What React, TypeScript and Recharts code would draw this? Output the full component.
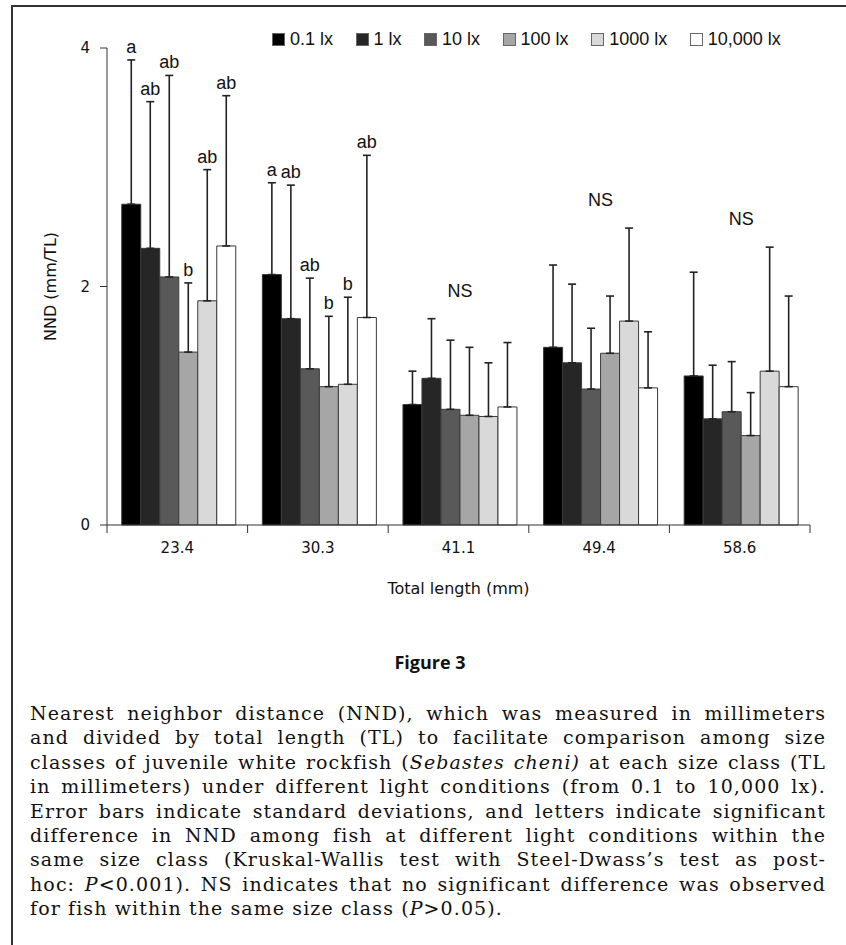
import React from "react";
import { Bar, BarChart, ErrorBar, LabelList, Legend, XAxis, YAxis } from "recharts";

// size classes (total length, mm)
const categories = ["23.4", "30.3", "41.1", "49.4", "58.6"];
const seriesNames = ["0.1 lx", "1 lx", "10 lx", "100 lx", "1000 lx", "10,000 lx"];
const fills = ["#000000", "#262626", "#595959", "#a6a6a6", "#d9d9d9", "#ffffff"];

// mean NND (mm/TL) per light level
const mean01 = [2.69, 2.1, 1.01, 1.49, 1.25];
const mean1 = [2.32, 1.73, 1.23, 1.36, 0.89];
const mean10 = [2.08, 1.31, 0.97, 1.14, 0.95];
const mean100 = [1.45, 1.16, 0.92, 1.44, 0.75];
const mean1000 = [1.88, 1.18, 0.91, 1.71, 1.29];
const mean10000 = [2.34, 1.74, 0.99, 1.15, 1.16];

// standard deviations (upper whisker only)
const sd01 = [1.21, 0.77, 0.28, 0.69, 0.87];
const sd1 = [1.23, 1.12, 0.5, 0.66, 0.45];
const sd10 = [1.69, 0.76, 0.58, 0.51, 0.42];
const sd100 = [0.58, 0.59, 0.57, 0.48, 0.36];
const sd1000 = [1.1, 0.73, 0.45, 0.78, 1.04];
const sd10000 = [1.26, 1.36, 0.54, 0.47, 0.76];

// significance letters
const let01 = ["a", "a", "", "", ""];
const let1 = ["ab", "ab", "", "", ""];
const let10 = ["ab", "ab", "", "", ""];
const let100 = ["b", "b", "", "", ""];
const let1000 = ["ab", "b", "", "", ""];
const let10000 = ["ab", "ab", "", "", ""];
const groupNotes = ["", "", "NS", "NS", "NS"];

const yTicks = [0, 2, 4];

const means = [mean01, mean1, mean10, mean100, mean1000, mean10000];
const sds = [sd01, sd1, sd10, sd100, sd1000, sd10000];
const letters = [let01, let1, let10, let100, let1000, let10000];

const data = categories.map((tl, i) => {
  const row: Record<string, any> = { tl, note: groupNotes[i] };
  means.forEach((m, k) => {
    row[`m${k}`] = m[i];
    row[`e${k}`] = [0, sds[k][i]];
    row[`l${k}`] = letters[k][i];
  });
  return row;
});

const CHART_W = 846;
const CHART_H = 620;
const PLOT_LEFT = 107;
const PLOT_RIGHT = 810;
const PLOT_TOP = 48;
const PLOT_BOTTOM = 525;
const Y_MAX = 4;
const UNIT = (PLOT_BOTTOM - PLOT_TOP) / Y_MAX;
const BAND = (PLOT_RIGHT - PLOT_LEFT) / categories.length;

const AXIS_FONT = '"DejaVu Sans", Verdana, sans-serif';
const LABEL_FONT = '"Liberation Sans", Arial, sans-serif';
const INK = "#222";

function XTick(props: any) {
  const { x, payload, index } = props;
  return (
    <g>
      <line x1={x - BAND / 2} x2={x - BAND / 2} y1={PLOT_BOTTOM} y2={PLOT_BOTTOM + 8} stroke="#333" />
      {index === categories.length - 1 && (
        <line x1={x + BAND / 2} x2={x + BAND / 2} y1={PLOT_BOTTOM} y2={PLOT_BOTTOM + 8} stroke="#333" />
      )}
      <text x={x} y={PLOT_BOTTOM + 17} dy="0.71em" textAnchor="middle" fontFamily={AXIS_FONT} fontSize={15} fill="#111">
        {payload.value}
      </text>
    </g>
  );
}

const letterLabel = (k: number) => (p: any) => {
  const { x, y, width, value, index } = p;
  if (!value) return null;
  const top = y - sds[k][index] * UNIT;
  return (
    <text x={x + width / 2} y={top - 7} textAnchor="middle" fontFamily={LABEL_FONT} fontSize={18} fill="#111">
      {value}
    </text>
  );
};

const noteLabel = (p: any) => {
  const { x, width, value, index } = p;
  if (!value) return null;
  const maxTop = Math.max(...means.map((m, k) => m[index] + sds[k][index]));
  return (
    <text
      x={x + 3 * width}
      y={PLOT_BOTTOM - maxTop * UNIT - 22}
      textAnchor="middle"
      fontFamily={LABEL_FONT}
      fontSize={18}
      fill="#111"
    >
      {value}
    </text>
  );
};

const renderLegend = () => (
  <div style={{ display: "flex", alignItems: "center", fontFamily: LABEL_FONT, fontSize: 18, color: "#111" }}>
    {seriesNames.map((n, i) => (
      <div key={n} style={{ display: "flex", alignItems: "center", marginRight: 22.5, whiteSpace: "nowrap" }}>
        <span
          style={{
            display: "inline-block",
            width: 11,
            height: 11,
            background: fills[i],
            border: "1px solid #666",
            marginRight: 5,
          }}
        />
        <span>{n}</span>
      </div>
    ))}
  </div>
);

const captionLines: React.ReactNode[] = [
  "Nearest neighbor distance (NND), which was measured in millimeters",
  "and divided by total length (TL) to facilitate comparison among size",
  <>
    classes of juvenile white rockfish (<i>Sebastes cheni)</i> at each size class (TL
  </>,
  "in millimeters) under different light conditions (from 0.1 to 10,000 lx).",
  "Error bars indicate standard deviations, and letters indicate significant",
  "difference in NND among fish at different light conditions within the",
  "same size class (Kruskal-Wallis test with Steel-Dwass\u2019s test as post-",
  <>
    hoc: <i>P</i>&lt;0.001). NS indicates that no significant difference was observed
  </>,
  <>
    for fish within the same size class (<i>P</i>&gt;0.05).
  </>,
];

export default function App() {
  return (
    <div style={{ position: "relative", width: CHART_W, height: 945, background: "#fff", overflow: "hidden" }}>
      <style>{"body{margin:0}"}</style>
      <div style={{ position: "absolute", top: 5, left: 11, width: 835, height: 2, background: "#333" }} />
      <div style={{ position: "absolute", top: 5, left: 11, width: 2, height: 940, background: "#333" }} />
      <div style={{ position: "absolute", top: 0, left: 0 }}>
        <BarChart
          width={CHART_W}
          height={CHART_H}
          data={data}
          margin={{ top: PLOT_TOP, right: CHART_W - PLOT_RIGHT, left: 0, bottom: 20 }}
          barGap={0}
          barCategoryGap="10.5%"
        >
          <XAxis
            dataKey="tl"
            interval={0}
            tickLine={false}
            tick={<XTick />}
            axisLine={{ stroke: "#333" }}
            height={CHART_H - 20 - PLOT_BOTTOM}
            label={{
              content: () => (
                <text
                  x={(PLOT_LEFT + PLOT_RIGHT) / 2}
                  y={PLOT_BOTTOM + 69}
                  textAnchor="middle"
                  fontFamily={AXIS_FONT}
                  fontSize={16}
                  fill="#111"
                >
                  Total length (mm)
                </text>
              ),
            }}
          />
          <YAxis
            domain={[0, Y_MAX]}
            ticks={yTicks}
            width={PLOT_LEFT}
            tickSize={7}
            tickMargin={10}
            stroke="#333"
            tick={{ fontFamily: AXIS_FONT, fontSize: 15, fill: "#111" }}
            label={{
              content: () => (
                <text
                  x={50}
                  y={(PLOT_TOP + PLOT_BOTTOM) / 2}
                  transform={`rotate(-90 50 ${(PLOT_TOP + PLOT_BOTTOM) / 2})`}
                  textAnchor="middle"
                  dominantBaseline="central"
                  fontFamily={AXIS_FONT}
                  fontSize={16}
                  fill="#111"
                >
                  NND (mm/TL)
                </text>
              ),
            }}
          />
          <Legend
            layout="horizontal"
            verticalAlign="middle"
            align="center"
            content={renderLegend}
            wrapperStyle={{ top: 29, left: 272, width: 570 }}
          />
          {seriesNames.map((name, k) => (
            <Bar
              key={name}
              dataKey={`m${k}`}
              name={name}
              fill={fills[k]}
              stroke="#3a3a3a"
              strokeWidth={1}
              isAnimationActive={false}
            >
              <ErrorBar dataKey={`e${k}`} width={4} stroke={INK} strokeWidth={1.6} />
              <LabelList dataKey={`l${k}`} content={letterLabel(k)} />
              {k === 0 && <LabelList dataKey="note" content={noteLabel} />}
            </Bar>
          ))}
        </BarChart>
      </div>
      <div
        style={{
          position: "absolute",
          top: 650,
          left: 0,
          width: 860,
          textAlign: "center",
          fontFamily: '"Open Sans", sans-serif',
          fontWeight: 700,
          fontSize: 18,
          color: "#111",
        }}
      >
        Figure 3
      </div>
      <div
        style={{
          position: "absolute",
          top: 701,
          left: 30,
          width: 796,
          fontFamily: '"DejaVu Serif", serif',
          fontSize: 19,
          letterSpacing: "1.1px",
          lineHeight: "24.4px",
          color: "#111",
        }}
      >
        {captionLines.map((line, i) => (
          <div
            key={i}
            style={{
              textAlign: i === captionLines.length - 1 ? "left" : "justify",
              textAlignLast: i === captionLines.length - 1 ? "left" : "justify",
              whiteSpace: "nowrap",
            }}
          >
            {line}
          </div>
        ))}
      </div>
    </div>
  );
}
